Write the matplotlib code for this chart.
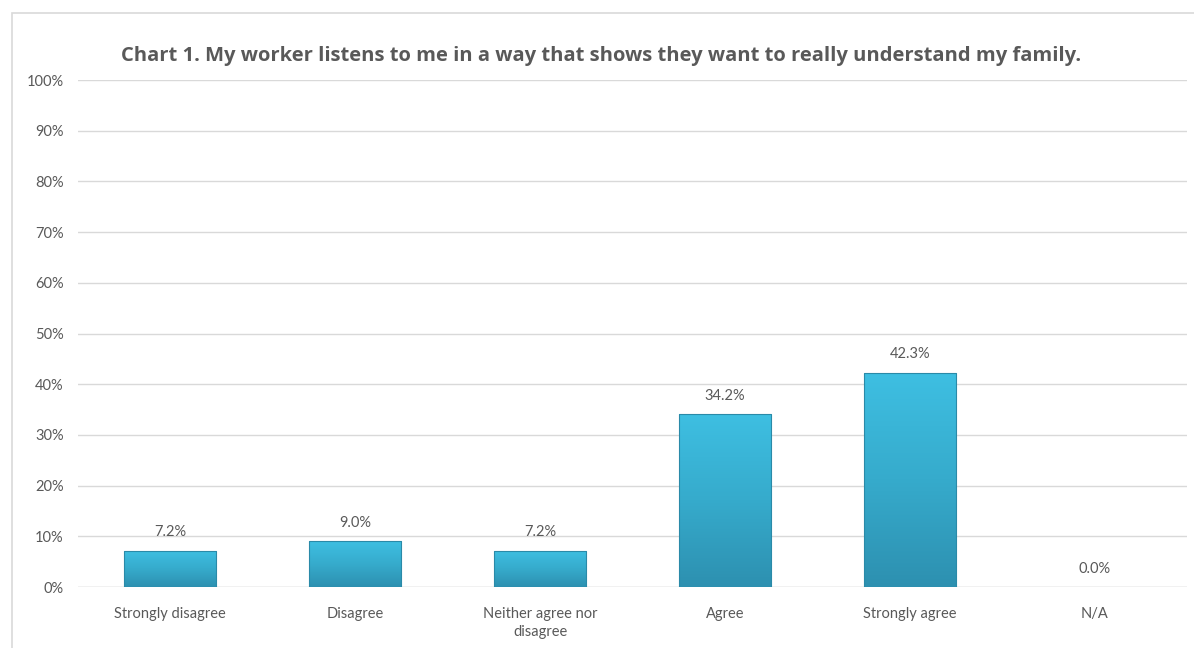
import matplotlib
matplotlib.use('Agg')
import matplotlib.pyplot as plt
import numpy as np
from matplotlib.patches import Rectangle

plt.rcParams['font.family'] = ['Lato', 'DejaVu Sans']

categories = ["Strongly disagree", "Disagree", "Neither agree nor\ndisagree",
              "Agree", "Strongly agree", "N/A"]
values = [7.2, 9.0, 7.2, 34.2, 42.3, 0.0]
yticks = np.arange(0, 101, 10)

grey = '#595959'

fig = plt.figure(figsize=(11.94, 6.48), dpi=100)
# chart border
fig.patches.append(Rectangle((12 / 1194, -0.01), 1.0, 1 - 13 / 648 + 0.01,
                             transform=fig.transFigure, fill=False,
                             edgecolor='#D9D9D9', lw=1.2))
ax = fig.add_axes([0.065, 0.094, 0.9295, 0.7825])

x = np.arange(len(categories))
bars = ax.bar(x, values, width=0.5, color='#38B2D4', edgecolor='#2E9AB8',
              linewidth=0.6, zorder=3)

# vertical gradient inside each bar
grad = np.linspace(0, 1, 256).reshape(-1, 1)
cmap = matplotlib.colors.LinearSegmentedColormap.from_list(
    'bar', ['#2D90B0', '#36ABCC', '#3EBFE2'])
for b in bars:
    h = b.get_height()
    if h <= 0:
        continue
    im = ax.imshow(grad, cmap=cmap, aspect='auto', origin='lower',
                   extent=[b.get_x(), b.get_x() + b.get_width(), 0, h],
                   zorder=3.5)
    im.set_clip_path(b)
    ax.add_patch(Rectangle((b.get_x(), 0), b.get_width(), h, fill=False,
                           edgecolor='#2A8AA8', lw=0.8, zorder=4))

for xi, v in zip(x, values):
    ax.annotate(f"{v:.1f}%", (xi, v), xytext=(0, 8), textcoords='offset points',
                ha='center', va='bottom', fontsize=10.5, color=grey)

ax.set_xlim(-0.5, len(categories) - 0.5)
ax.set_ylim(0, 100)
ax.set_yticks(yticks)
ax.set_yticklabels([f"{t}%" for t in yticks])
ax.set_xticks(x)
ax.set_xticklabels(categories, linespacing=1.45)
ax.tick_params(axis='both', length=0, labelsize=10.5, colors=grey)
ax.tick_params(axis='y', pad=10)
ax.tick_params(axis='x', pad=14)
ax.grid(axis='y', color='#D9D9D9', lw=1, zorder=0)
ax.set_axisbelow(True)
for s in ax.spines.values():
    s.set_visible(False)
ax.axhline(0, color='#D9D9D9', lw=1, zorder=1)

fig.text(0.503, 0.913, "Chart 1. My worker listens to me in a way that shows they want to really understand my family.",
         ha='center', va='center', fontsize=14.5, fontweight='bold', color=grey,
         family=['Open Sans', 'DejaVu Sans'])

fig.savefig('out.png', dpi=100)
